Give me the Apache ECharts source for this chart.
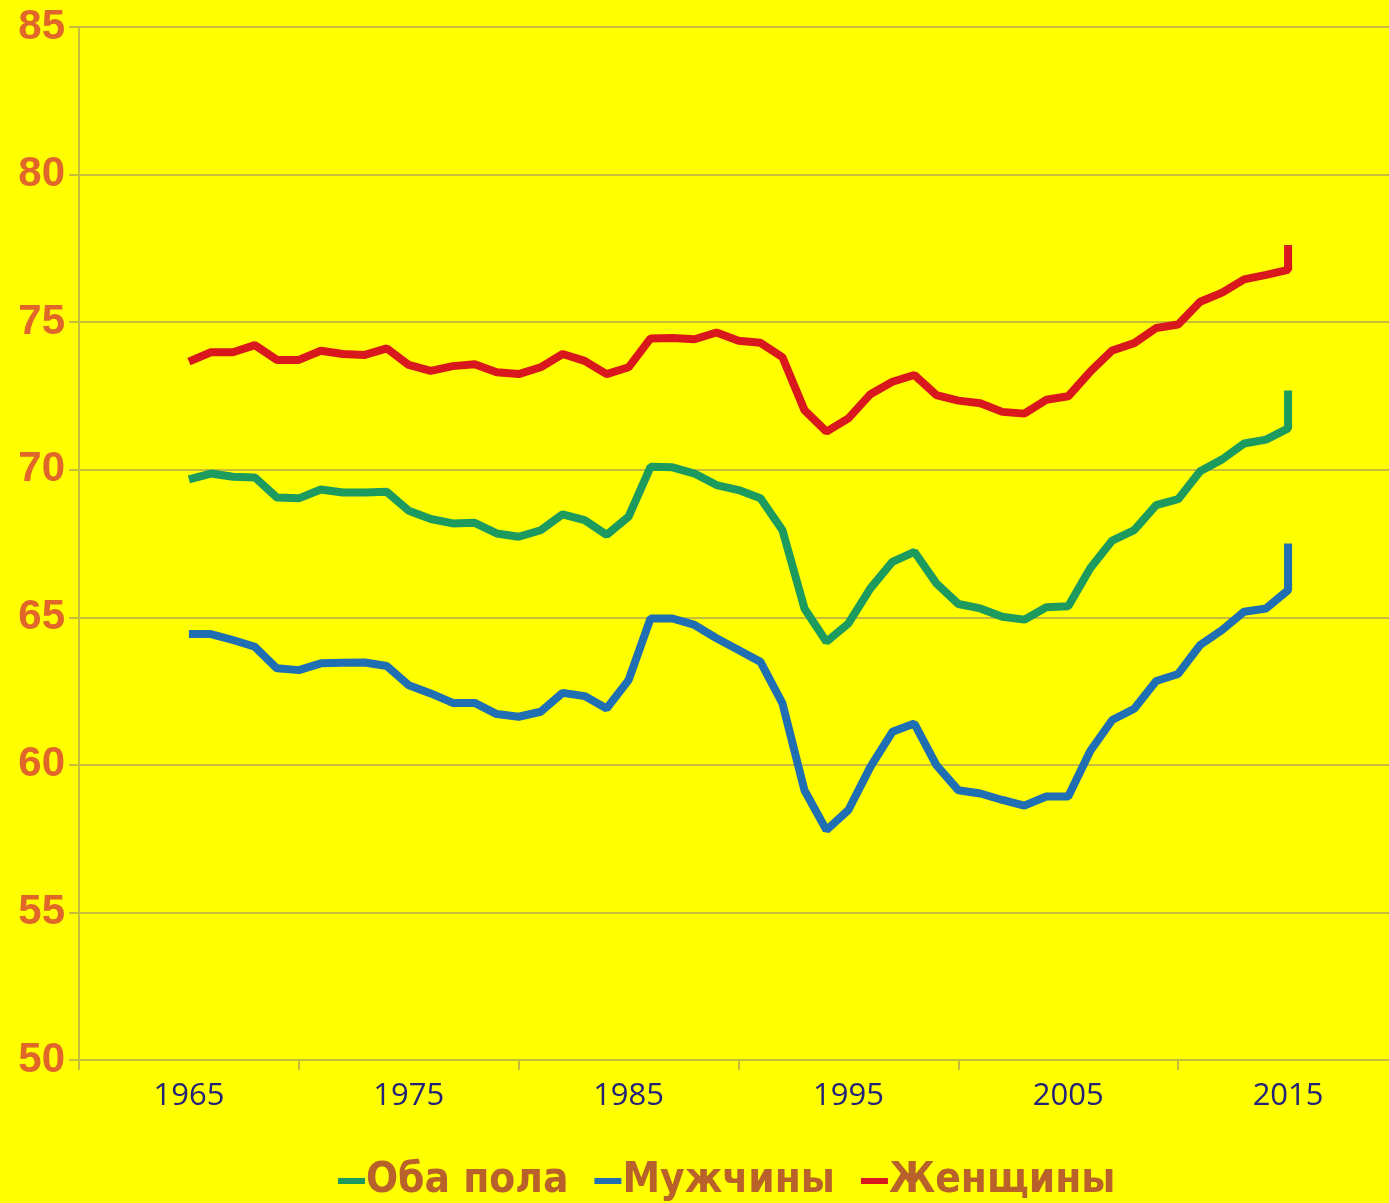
<!DOCTYPE html>
<html>
<head>
<meta charset="utf-8">
<script src="https://cdn.jsdelivr.net/npm/echarts@6/dist/echarts.min.js"></script>
<style>
  html, body { margin: 0; padding: 0; background: #ffff00; }
  #chartBox { width: 1389px; height: 1203px; }
</style>
</head>
<body>
<div id="chartBox"></div>
<script>
// годы (последняя точка 2015 повторяется — вертикальный хвост на графике)
const years = [1965, 1966, 1967, 1968, 1969, 1970, 1971, 1972, 1973, 1974,
  1975, 1976, 1977, 1978, 1979, 1980, 1981, 1982, 1983, 1984,
  1985, 1986, 1987, 1988, 1989, 1990, 1991, 1992, 1993, 1994,
  1995, 1996, 1997, 1998, 1999, 2000, 2001, 2002, 2003, 2004,
  2005, 2006, 2007, 2008, 2009, 2010, 2011, 2012, 2013, 2014,
  2015, 2015];

const bothSexes = [69.67, 69.87, 69.76, 69.74, 69.06, 69.03, 69.33, 69.23, 69.23, 69.25,
  68.61, 68.33, 68.18, 68.2, 67.84, 67.73, 67.95, 68.49, 68.29, 67.79,
  68.41, 70.1, 70.08, 69.87, 69.48, 69.31, 69.03, 67.95, 65.3, 64.17,
  64.79, 65.98, 66.88, 67.22, 66.15, 65.45, 65.3, 65.02, 64.92, 65.34,
  65.37, 66.66, 67.6, 67.95, 68.8, 69.0, 69.95, 70.35, 70.89, 71.02,
  71.4, 72.68];

const men = [64.43, 64.43, 64.23, 64.0, 63.27, 63.21, 63.44, 63.46, 63.47, 63.35,
  62.7, 62.42, 62.1, 62.1, 61.72, 61.63, 61.8, 62.44, 62.33, 61.91,
  62.87, 64.96, 64.96, 64.74, 64.29, 63.89, 63.49, 62.08, 59.14, 57.79,
  58.47, 59.93, 61.12, 61.4, 59.99, 59.14, 59.03, 58.81, 58.62, 58.93,
  58.93, 60.47, 61.52, 61.9, 62.84, 63.08, 64.06, 64.57, 65.19, 65.3,
  65.92, 67.5];

const women = [73.66, 73.98, 73.98, 74.22, 73.72, 73.72, 74.03, 73.92, 73.89, 74.11,
  73.55, 73.35, 73.51, 73.57, 73.3, 73.24, 73.47, 73.92, 73.69, 73.24,
  73.47, 74.45, 74.46, 74.42, 74.65, 74.37, 74.3, 73.81, 72.02, 71.29,
  71.74, 72.56, 72.98, 73.21, 72.53, 72.34, 72.25, 71.96, 71.9, 72.37,
  72.49, 73.32, 74.04, 74.29, 74.8, 74.92, 75.69, 76.0, 76.45, 76.6,
  76.77, 77.61];

const seriesNames = ["Оба пола", "Мужчины", "Женщины"];
const xLabelYears = [1965, 1975, 1985, 1995, 2005, 2015];
const xTickYears = [1960, 1970, 1980, 1990, 2000, 2010, 2020];

const gridColor = "#c6be3a";

function pairs(values) {
  return years.map((y, i) => [y, values[i]]);
}

const myChart = echarts.init(document.getElementById("chartBox"));

const option = {
  backgroundColor: "#ffff00",
  animation: false,
  grid: {
    left: 79,
    top: 27,
    bottom: 143,
    width: 1319,
    outerBoundsMode: "none",
  },
  legend: {
    data: seriesNames,
    top: 1155,
    left: 333,
    itemGap: 26,
    itemWidth: 27,
    itemHeight: 6,
    icon: "rect",
    textStyle: {
      fontFamily: "'Liberation Sans Narrow', 'DejaVu Sans Condensed', 'Liberation Sans', sans-serif",
      fontWeight: "bold",
      fontSize: 42,
      color: "#b8612b",
      padding: [0, 0, 0, -4],
    },
  },
  xAxis: {
    type: "value",
    min: 1960,
    max: 2020,
    splitLine: { show: false },
    axisLine: { lineStyle: { color: gridColor, width: 2 } },
    axisTick: {
      length: 10,
      customValues: xTickYears,
      lineStyle: { color: gridColor, width: 2 },
    },
    axisLabel: {
      customValues: xLabelYears,
      margin: 21,
      fontFamily: "'Open Sans', sans-serif",
      fontSize: 31,
      color: "#22227a",
      formatter: (v) => String(v),
    },
  },
  yAxis: {
    type: "value",
    min: 50,
    max: 85,
    interval: 5,
    axisLine: { show: true, lineStyle: { color: gridColor, width: 2 } },
    axisTick: { show: true, length: 10, lineStyle: { color: gridColor, width: 2 } },
    splitLine: { lineStyle: { color: gridColor, width: 2 } },
    axisLabel: {
      margin: 14,
      fontFamily: "'Liberation Sans', sans-serif",
      fontWeight: "bold",
      fontSize: 42,
      color: "#e0662a",
    },
  },
  series: [
    {
      name: seriesNames[0],
      type: "line",
      data: pairs(bothSexes),
      showSymbol: false,
      symbol: "none",
      color: "#1d9a5e",
      lineStyle: { width: 8, color: "#1d9a5e" },
    },
    {
      name: seriesNames[1],
      type: "line",
      data: pairs(men),
      showSymbol: false,
      symbol: "none",
      color: "#1f6fb2",
      lineStyle: { width: 8, color: "#1f6fb2" },
    },
    {
      name: seriesNames[2],
      type: "line",
      data: pairs(women),
      showSymbol: false,
      symbol: "none",
      color: "#d8181c",
      lineStyle: { width: 8, color: "#d8181c" },
    },
  ],
};

myChart.setOption(option);
</script>
</body>
</html>
